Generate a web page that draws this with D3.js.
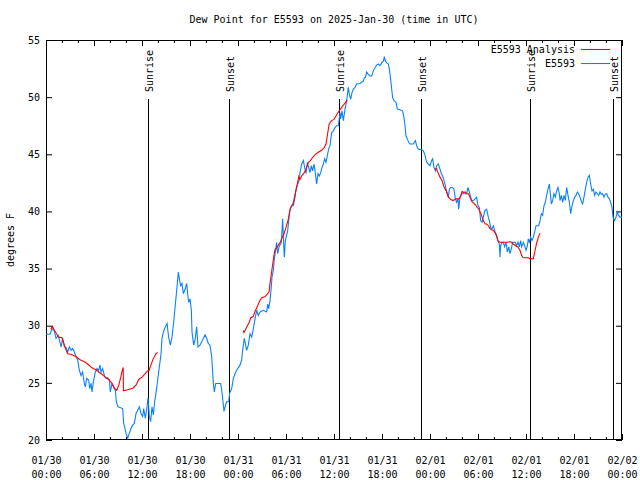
<!DOCTYPE html>
<html><head><meta charset="utf-8">
<script src="https://cdn.jsdelivr.net/npm/d3@7"></script>
<style>
html,body{margin:0;padding:0;background:#fff;}
text{font-family:"DejaVu Sans Mono","Liberation Mono",monospace;font-size:10px;fill:#000;}
</style></head>
<body>
<svg id="chart" width="640" height="480"></svg>
<script>
// ---------- data (hours since 2025-01-30 00:00 UTC, dew point in F) ----------
const obsHours = [0,0.08,0.5,0.75,1.04,1.25,1.54,1.88,2.08,2.29,2.5,2.71,2.92,3.13,3.33,3.54,3.75,3.96,4.17,4.38,4.58,4.79,4.92,5.08,5.33,5.46,5.63,5.75,5.92,6.17,6.38,6.58,6.75,6.88,7.08,7.29,7.5,7.71,7.92,8.04,8.25,8.46,8.67,8.79,9.0,9.58,9.71,9.83,10.0,10.21,10.42,10.63,10.83,11.04,11.25,11.46,11.67,11.88,12.08,12.21,12.42,12.63,12.75,12.92,13.08,13.25,13.42,13.58,13.75,13.96,14.17,14.38,14.5,14.67,14.92,15.13,15.33,15.54,15.75,15.96,16.17,16.38,16.54,16.67,16.83,17.0,17.17,17.42,17.58,17.71,17.83,18.0,18.17,18.25,18.46,18.63,18.83,19.0,
19.25,19.88,20.08,20.29,20.5,20.71,20.92,21.04,21.21,21.83,21.96,22.08,22.25,22.38,22.58,22.83,22.96,23.21,23.42,23.63,23.83,24.25,24.46,24.58,24.79,24.92,25.08,25.29,25.5,25.71,25.92,26.13,26.33,26.54,26.75,27.17,27.58,27.71,27.83,28.0,28.13,28.25,28.42,28.54,28.71,28.83,28.96,29.13,29.42,29.58,29.67,29.79,29.92,30.21,30.38,30.5,30.71,30.92,31.13,31.25,31.46,31.63,31.75,31.96,32.17,32.33,32.5,32.67,32.83,33.0,33.17,33.33,33.5,33.63,33.75,33.83,34.0,34.17,34.33,34.5,34.67,34.83,35.0,35.17,35.33,35.5,
35.71,35.92,36.13,36.33,36.54,36.75,36.83,37.0,37.17,37.38,37.58,37.79,37.92,38.08,38.25,38.42,38.63,38.83,39.25,39.46,39.67,39.79,39.92,40.08,40.29,40.5,40.71,40.92,41.13,41.33,41.54,41.75,41.96,42.17,42.29,42.42,42.58,42.79,42.92,43.08,43.21,43.33,43.5,43.75,43.92,44.25,44.58,44.75,44.88,45.0,45.17,45.33,45.5,45.92,46.04,46.17,46.33,46.54,46.96,47.17,47.38,47.58,47.79,48.0,48.21,48.33,48.5,48.67,48.83,49.04,49.25,49.42,49.58,49.75,49.92,50.08,50.29,50.42,50.58,50.83,51.0,51.17,51.33,51.5,51.58,51.75,51.96,52.58,52.75,52.92,
53.21,53.42,53.63,53.83,54.0,54.17,54.33,54.5,54.67,54.88,55.08,55.29,55.42,55.58,55.75,55.92,56.13,56.33,56.5,56.67,56.75,56.83,57.0,57.17,57.33,57.5,57.67,57.83,58.0,58.17,58.33,58.67,58.83,59.0,59.17,59.33,59.46,59.67,59.83,60.0,60.17,60.29,60.42,60.58,60.75,60.92,61.08,61.25,61.58,61.75,61.92,62.08,62.25,62.42,62.58,62.75,62.92,63.04,63.17,63.33,63.5,63.67,63.83,64.0,64.17,64.25,64.42,64.58,64.75,64.92,65.08,65.25,65.42,65.58,65.71,65.92,66.08,66.25,66.42,66.58,66.75,66.96,67.08,67.25,67.42,67.58,67.75,67.92,68.08,68.25,68.42,68.58,68.75,68.92,69.08,69.25,69.42,69.58,69.75,69.92,70.08,70.25,70.42,70.58,70.75,70.83,70.92,71.08,71.25,71.42,71.58,71.75,71.92,72.0];
const obsDewpt = [29.25,29.25,29.25,29.75,29.55,28.9,29.15,28.15,28.9,28.15,28.1,27.7,28.15,27.85,28.0,27.7,27.3,27.0,26.1,25.65,25.95,24.95,24.65,25.4,25.25,24.5,24.95,24.2,25.1,25.95,26.25,26.1,26.55,25.95,26.25,25.65,25.4,25.45,25.25,24.2,24.95,24.65,24.35,23.35,22.9,22.75,21.45,21.15,20.6,20.15,20.6,21.0,21.3,21.45,22.3,22.6,22.9,22.3,22.05,22.75,21.9,22.9,23.7,22.05,21.6,22.9,22.2,23.35,24.1,25.25,26.4,27.55,28.9,29.45,29.9,30.2,29.0,28.3,29.0,30.3,31.9,33.4,34.7,34.1,33.5,33.7,32.8,33.25,33.7,32.8,32.05,32.35,31.35,29.45,28.3,28.75,29.9,28.15,
28.3,29.2,28.9,28.45,28.3,27.3,24.95,24.2,24.95,24.95,24.4,23.65,22.5,22.9,23.35,23.35,24.1,24.5,25.4,25.8,26.1,26.55,27.0,27.85,28.9,28.45,27.85,28.3,29.3,29.0,29.75,30.6,31.35,30.9,31.2,31.35,31.2,31.9,31.5,32.2,33.1,34.25,34.85,35.85,36.6,37.3,36.3,36.9,37.3,39.35,37.75,36.0,37.45,38.3,39.5,40.1,40.5,40.5,41.25,41.95,42.4,42.7,43.4,44.15,44.45,43.85,43.3,44.3,43.85,43.4,44.0,43.55,44.15,43.55,42.85,42.4,43.3,43.1,43.4,43.85,44.15,44.6,44.3,44.9,45.45,45.75,
46.9,47.05,47.35,47.5,47.5,48.65,48.1,48.8,47.95,48.95,49.7,50.85,50.25,49.8,50.4,50.7,50.85,51.15,51.2,51.3,51.4,51.7,51.7,52.2,52.0,51.85,51.85,52.3,52.6,52.8,52.9,52.75,53.0,53.15,53.55,53.15,53.0,52.9,52.45,51.55,50.7,49.95,49.7,49.55,48.95,48.9,48.8,48.2,47.5,46.6,46.35,46.05,45.9,45.9,46.05,46.2,45.75,45.45,45.4,45.3,44.9,44.3,44.15,44.0,44.45,44.6,43.85,43.55,44.0,44.15,43.7,43.3,43.1,42.7,42.25,41.7,41.25,41.95,42.1,42.1,41.95,41.1,40.8,41.1,40.2,41.25,41.55,41.55,42.1,41.7,
40.95,40.95,41.1,41.25,40.5,40.35,39.2,39.05,39.5,40.1,40.2,39.5,39.2,38.6,38.5,38.75,38.2,37.9,37.45,37.15,36.0,37.0,37.3,37.3,36.9,37.3,36.45,36.9,36.3,36.75,37.3,37.3,37.0,37.3,36.9,37.45,36.9,37.3,37.0,36.6,37.0,37.6,37.3,37.75,37.45,37.75,38.2,38.75,38.75,39.2,39.8,39.65,40.5,40.8,41.4,41.95,42.4,41.55,40.65,40.95,41.55,41.25,41.8,42.1,41.55,40.95,41.4,40.8,41.4,40.95,42.1,41.4,40.8,39.8,40.35,40.95,41.25,41.4,41.7,41.55,41.25,40.8,40.65,41.25,41.95,42.55,43.0,43.15,42.4,41.8,41.95,41.4,41.7,41.55,41.4,41.7,41.5,41.55,41.25,41.5,41.55,41.25,41.1,40.8,40.35,39.8,39.35,39.2,39.5,39.95,39.65,39.5,39.5,39.5];

// analysis series (null = gap)
const anaHours = [0.6,0.8,1.05,1.35,1.6,2.0,2.3,2.5,2.7,3.1,3.75,4.2,4.8,5.2,5.6,5.9,6.25,6.6,6.9,7.15,7.5,7.9,8.25,8.55,8.85,9.1,9.35,9.5,9.65,9.68,10.2,10.9,11.25,11.6,12.0,12.4,12.7,12.9,13.1,13.4,13.75,13.95,
  null,
  24.67,24.75,24.9,25.1,25.4,25.6,25.9,26.1,26.4,26.67,26.95,27.4,27.7,27.9,28.0,28.2,28.4,28.6,28.9,29.2,29.45,29.75,30.0,30.3,30.5,30.7,30.9,31.1,31.3,31.6,31.75,31.95,32.2,32.5,32.8,33.0,33.3,33.6,34.0,34.45,34.75,35.0,35.2,35.4,35.7,36.0,36.25,36.5,36.8,37.1,37.4,37.65,
  null,
  48.6,48.8,49.0,49.25,49.5,49.7,49.9,50.1,50.3,50.6,50.9,51.25,51.6,51.8,52.0,52.2,52.4,52.6,52.8,53.0,53.2,53.5,53.75,53.9,54.1,54.25,54.45,54.65,54.9,55.1,55.3,55.5,55.7,55.9,56.1,56.3,56.5,56.75,57.2,57.6,58.0,58.2,58.4,58.8,59.0,59.25,59.45,59.65,60.1,60.3,60.5,60.9,61.1,61.3,61.55,61.75];
const anaDewpt = [29.7,29.95,29.6,29.25,29.0,28.95,28.3,27.9,27.55,27.5,27.3,27.05,26.85,26.65,26.4,26.25,26.15,25.95,25.8,25.65,25.45,25.25,24.95,24.5,24.35,24.8,25.5,26.0,26.35,24.3,24.4,24.55,24.8,25.3,25.5,25.8,26.05,26.1,26.55,27.1,27.55,27.65,
  null,
  29.6,29.4,29.6,29.9,30.3,30.7,30.8,31.2,31.65,32.1,32.45,32.55,32.8,33.0,33.7,34.7,35.7,36.6,36.9,37.2,37.6,38.05,38.6,39.35,40.2,40.5,40.7,41.4,42.0,43.05,42.8,43.1,43.3,43.7,44.3,44.4,44.7,44.95,45.15,45.35,45.55,45.9,46.8,47.65,47.95,48.05,48.35,48.65,48.95,49.25,49.5,49.75,
  null,
  43.7,43.75,43.4,43.0,42.7,42.25,41.95,41.7,41.25,41.05,40.95,41.1,41.1,41.25,41.75,41.65,41.7,41.55,41.55,41.25,40.9,40.7,40.5,40.35,40.2,39.95,39.65,39.2,38.9,38.9,38.75,38.5,38.4,38.35,38.2,37.9,37.4,37.3,37.3,37.3,37.35,37.3,37.15,36.95,36.9,36.6,36.15,35.95,35.95,35.95,35.85,35.85,36.45,37.15,37.75,38.1];

const sunHours  = [12.7, 22.9, 36.65, 46.9, 60.55, 70.9];
const sunLabels = ["Sunrise","Sunset","Sunrise","Sunset","Sunrise","Sunset"];

const xTickHours  = [0,6,12,18,24,30,36,42,48,54,60,66,72];
const xTickLabels = ["01/30\n00:00","01/30\n06:00","01/30\n12:00","01/30\n18:00","01/31\n00:00","01/31\n06:00","01/31\n12:00","01/31\n18:00","02/01\n00:00","02/01\n06:00","02/01\n12:00","02/01\n18:00","02/02\n00:00"];
const xMinorHours = d3.range(0, 73, 2);
const yTicks = [20,25,30,35,40,45,50,55];

const titleText = "Dew Point for E5593 on 2025-Jan-30 (time in UTC)";
const yLabel = "degrees F";
const seriesNames = ["E5593 Analysis","E5593"];
const seriesColors = ["#ff0000","#0a80ff"];

// ---------- layout ----------
const L = 46, R = 622, T = 40, B = 440;
const svg = d3.select("#chart");
const x = d3.scaleLinear().domain([0,72]).range([L,R]);
const y = d3.scaleLinear().domain([20,55]).range([B,T]);

// title
svg.append("text").attr("x",334).attr("y",23).attr("text-anchor","middle").text(titleText);
// y label
svg.append("text").attr("transform","translate(14,240) rotate(-90)").attr("text-anchor","middle").text(yLabel);

// axes (ticks inward)
function clean(g){ g.select(".domain").remove(); g.selectAll("line").attr("stroke","#000"); }
svg.append("g").attr("transform",`translate(0,${B})`)
  .call(d3.axisBottom(x).tickValues(xMinorHours).tickSize(-3).tickFormat("")).call(clean);
svg.append("g").attr("transform",`translate(0,${T})`)
  .call(d3.axisTop(x).tickValues(xMinorHours).tickSize(-3).tickFormat("")).call(clean);
const xb = svg.append("g").attr("transform",`translate(0,${B})`)
  .call(d3.axisBottom(x).tickValues(xTickHours).tickSize(-6).tickFormat((d,i)=>xTickLabels[i])).call(clean);
xb.selectAll(".tick text").each(function(){
  const t = d3.select(this); const parts = t.text().split("\n");
  t.text(null).attr("dy",null).attr("y",null);
  parts.forEach((p,k)=>t.append("tspan").attr("x",0).attr("y",24+k*14).text(p));
});
xb.selectAll("text").style("font-family",null).style("font-size",null).attr("font-family",null).attr("font-size",null);
svg.append("g").attr("transform",`translate(0,${T})`)
  .call(d3.axisTop(x).tickValues(xTickHours).tickSize(-6).tickFormat("")).call(clean);
const yl = svg.append("g").attr("transform",`translate(${L},0)`)
  .call(d3.axisLeft(y).tickValues(yTicks).tickSize(-6).tickPadding(6)).call(clean);
yl.selectAll("text").attr("font-family",null).attr("font-size",null);
yl.attr("font-family",null).attr("font-size",null);
xb.attr("font-family",null).attr("font-size",null);
svg.append("g").attr("transform",`translate(${R},0)`)
  .call(d3.axisRight(y).tickValues(yTicks).tickSize(-6).tickFormat("")).call(clean);

// frame
svg.append("rect").attr("x",L+0.5).attr("y",T+0.5).attr("width",R-L-1).attr("height",B-T-1)
  .attr("fill","none").attr("stroke","#000");

// sunrise / sunset lines
sunHours.forEach((h,i)=>{
  const px = Math.round(x(h))+0.5;
  svg.append("line").attr("x1",px).attr("x2",px).attr("y1",99).attr("y2",B).attr("stroke","#000");
  svg.append("text").attr("transform",`translate(${px+4},92) rotate(-90)`).attr("text-anchor","start").text(sunLabels[i]);
});

// series
const obs = obsHours.map((h,i)=>({h, v:obsDewpt[i]}));
const ana = anaHours.map((h,i)=>({h, v:anaDewpt[i]}));
const line = d3.line().defined(d=>d.h!=null && d.v!=null).x(d=>x(d.h)).y(d=>y(d.v));
svg.append("path").datum(obs).attr("d",line).attr("fill","none").attr("stroke",seriesColors[1]).attr("stroke-width",1.1);
svg.append("path").datum(ana).attr("d",line).attr("fill","none").attr("stroke",seriesColors[0]).attr("stroke-width",1.1);

// legend
seriesNames.forEach((n,i)=>{
  const cy = 49 + i*14;
  svg.append("text").attr("x",575).attr("y",cy+3.5).attr("text-anchor","end").text(n);
  svg.append("line").attr("x1",581).attr("x2",610).attr("y1",cy+0.5).attr("y2",cy+0.5)
    .attr("stroke",seriesColors[i]).attr("stroke-width",1.1);
});
</script>
</body></html>
